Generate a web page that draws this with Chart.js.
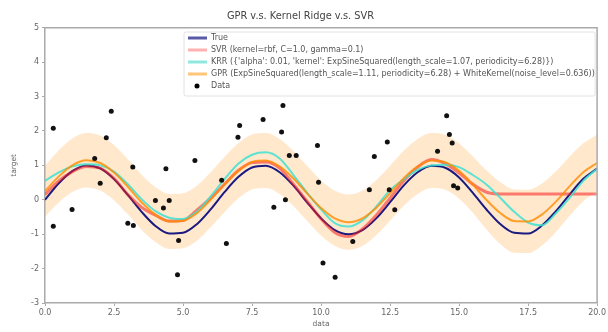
<!DOCTYPE html>
<html>
<head>
<meta charset="utf-8">
<script src="https://cdn.jsdelivr.net/npm/chart.js@4.4.1/dist/chart.umd.min.js"></script>
<style>
  html, body { margin: 0; padding: 0; background: #fff; }
  canvas { display: block; }
</style>
</head>
<body>
<canvas id="chartComparacion" width="608" height="332"></canvas>
<script>
/* Valores */
const xGrid = [0, 0.5, 1, 1.5, 2, 2.5, 3, 3.5, 4, 4.5, 5, 5.5, 6, 6.5, 7, 7.5, 8, 8.5, 9, 9.5, 10,
  10.5, 11, 11.5, 12, 12.5, 13, 13.5, 14, 14.5, 15, 15.5, 16, 16.5, 17, 17.5, 18, 18.5, 19, 19.5, 20];

const trueVals = [0, 0.48, 0.84, 1.0, 0.91, 0.6, 0.14, -0.35, -0.76, -0.98, -0.96, -0.71, -0.28, 0.22, 0.66, 0.94, 0.99, 0.8, 0.41, -0.08, -0.54,
  -0.88, -1.0, -0.88, -0.54, -0.07, 0.42, 0.8, 0.99, 0.93, 0.65, 0.2, -0.29, -0.71, -0.96, -0.98, -0.75, -0.34, 0.15, 0.61, 0.91];

const svrVals = [0.15, 0.55, 0.82, 0.97, 0.92, 0.62, 0.15, -0.22, -0.45, -0.62, -0.6, -0.3, 0.05, 0.45, 0.85, 1.08, 1.1, 0.92, 0.45, -0.05, -0.55,
  -0.95, -1.07, -0.85, -0.45, 0.05, 0.55, 0.95, 1.17, 1.05, 0.78, 0.45, 0.22, 0.17, 0.17, 0.17, 0.17, 0.17, 0.17, 0.17, 0.17];

const krrVals = [0.55, 0.8, 0.97, 1.03, 1.0, 0.82, 0.45, 0.02, -0.33, -0.52, -0.56, -0.35, 0.1, 0.6, 1.05, 1.31, 1.38, 1.2, 0.72, 0.2, -0.28,
  -0.68, -0.78, -0.6, -0.2, 0.28, 0.6, 0.87, 1.0, 1.02, 0.95, 0.72, 0.44, 0.05, -0.35, -0.66, -0.74, -0.4, 0.05, 0.55, 0.9];

const gprVals = [0.25, 0.68, 1.01, 1.15, 1.07, 0.79, 0.38, -0.07, -0.43, -0.63, -0.61, -0.39, 0.0, 0.44, 0.84, 1.1, 1.14, 0.97, 0.62, 0.18, -0.24,
  -0.54, -0.65, -0.54, -0.23, 0.19, 0.63, 0.97, 1.14, 1.09, 0.84, 0.44, -0.01, -0.39, -0.62, -0.63, -0.43, -0.06, 0.39, 0.8, 1.07];

const gprStd = [0.74, 0.76, 0.78, 0.79, 0.8, 0.8, 0.8, 0.8, 0.8, 0.8, 0.8, 0.8, 0.8, 0.8, 0.8, 0.8, 0.8, 0.8, 0.8, 0.8, 0.8,
  0.8, 0.8, 0.8, 0.8, 0.8, 0.8, 0.8, 0.8, 0.8, 0.8, 0.82, 0.86, 0.9, 0.92, 0.92, 0.9, 0.88, 0.86, 0.84, 0.83];

const dataX = [0.3, 0.3, 0.98, 1.8, 2.0, 2.22, 2.4, 3.0, 3.2, 3.18, 4.0, 4.29, 4.38, 4.5, 4.8, 4.84, 5.43, 6.4, 6.57, 6.99,
  7.05, 7.9, 8.29, 8.57, 8.62, 8.71, 8.85, 9.1, 9.87, 9.91, 10.07, 10.51, 11.15, 11.75, 11.93, 12.4, 12.47, 12.67,
  14.22, 14.55, 14.65, 14.75, 14.8, 14.95];
const dataY = [2.08, -0.77, -0.28, 1.2, 0.48, 1.8, 2.57, -0.68, -0.75, 0.95, -0.02, -0.24, 0.9, -0.02, -2.18, -1.18, 1.14, 0.57, -1.27, 1.82,
  2.16, 2.33, -0.22, 1.97, 2.74, 0.0, 1.29, 1.29, 1.58, 0.51, -1.84, -2.25, -1.21, 0.29, 1.26, 1.68, 0.29, -0.29,
  1.41, 2.44, 1.9, 1.65, 0.41, 0.34];

const xTickValues = [0, 2.5, 5, 7.5, 10, 12.5, 15, 17.5, 20];
const yTickValues = [-3, -2, -1, 0, 1, 2, 3, 4, 5];

const tituloGrafica = "GPR v.s. Kernel Ridge v.s. SVR";
const etiquetaTrue = "True";
const etiquetaSVR = "SVR (kernel=rbf, C=1.0, gamma=0.1)";
const etiquetaKRR = "KRR ({'alpha': 0.01, 'kernel': ExpSineSquared(length_scale=1.07, periodicity=6.28)})";
const etiquetaGPR = "GPR (ExpSineSquared(length_scale=1.11, periodicity=6.28) + WhiteKernel(noise_level=0.636))";
const etiquetaData = "Data";

const toPoints = (ys) => xGrid.map((x, i) => ({ x: x, y: ys[i] }));

const bandaSuperior = xGrid.map((x, i) => ({ x: x, y: gprVals[i] + gprStd[i] }));
const bandaInferior = xGrid.map((x, i) => ({ x: x, y: gprVals[i] - gprStd[i] }));
const puntosData = dataX.map((x, i) => ({ x: x, y: dataY[i] }));

const lineaBase = {
  showLine: true,
  pointRadius: 0,
  borderWidth: 2,
  cubicInterpolationMode: "monotone",
  fill: false,
};

/* Leyenda dentro del area, como en matplotlib */
const leyendaCaja = {
  id: "leyendaCaja",
  afterDatasetsDraw(chart) {
    const ctx = chart.ctx;
    const area = chart.chartArea;

    // marco superior y derecho
    ctx.save();
    ctx.strokeStyle = "#aaa";
    ctx.lineWidth = 1.5;
    ctx.beginPath();
    ctx.moveTo(area.left, area.top);
    ctx.lineTo(area.right, area.top);
    ctx.lineTo(area.right, area.bottom);
    ctx.stroke();

    const items = chart.data.datasets
      .filter((d) => d.enLeyenda)
      .sort((a, b) => a.enLeyenda - b.enLeyenda);

    const x0 = 184, y0 = 32, w = area.right - 2 - x0, rowH = 12;
    const h = items.length * rowH + 4;
    ctx.fillStyle = "rgba(255,255,255,0.85)";
    ctx.strokeStyle = "#e2e2e2";
    ctx.lineWidth = 1;
    ctx.beginPath();
    ctx.roundRect(x0, y0, w, h, 2);
    ctx.fill();
    ctx.stroke();

    ctx.font = "8px 'DejaVu Sans'";
    ctx.textBaseline = "middle";
    items.forEach((d, i) => {
      const cy = y0 + 6 + i * rowH;
      if (d.showLine) {
        ctx.strokeStyle = d.colorLeyenda;
        ctx.lineWidth = 3;
        ctx.beginPath();
        ctx.moveTo(x0 + 4, cy);
        ctx.lineTo(x0 + 23, cy);
        ctx.stroke();
      } else {
        ctx.fillStyle = "#000";
        ctx.beginPath();
        ctx.arc(x0 + 13, cy, 2.5, 0, Math.PI * 2);
        ctx.fill();
      }
      ctx.fillStyle = "#555";
      ctx.fillText(d.label, x0 + 27, cy);
    });
    ctx.restore();
  },
};

const context = document.getElementById("chartComparacion").getContext("2d");

const chartComparacion = new Chart(context, {
  type: "scatter",
  data: {
    datasets: [
      {
        label: "GPR std sup",
        data: bandaSuperior,
        showLine: true,
        pointRadius: 0,
        borderWidth: 0,
        borderColor: "rgba(0,0,0,0)",
        backgroundColor: "rgba(255,140,0,0.2)",
        cubicInterpolationMode: "monotone",
        fill: "+1",
        order: 6,
      },
      {
        label: "GPR std inf",
        data: bandaInferior,
        showLine: true,
        pointRadius: 0,
        borderWidth: 0,
        borderColor: "rgba(0,0,0,0)",
        cubicInterpolationMode: "monotone",
        fill: false,
        order: 7,
      },
      {
        ...lineaBase,
        label: etiquetaTrue,
        data: toPoints(trueVals),
        borderColor: "#1a1a80",
        colorLeyenda: "#5a5aa8",
        enLeyenda: 1,
        order: 4,
      },
      {
        ...lineaBase,
        label: etiquetaSVR,
        data: toPoints(svrVals),
        borderColor: "rgba(245,30,30,0.55)",
        borderWidth: 3,
        colorLeyenda: "#ffb0b0",
        enLeyenda: 2,
        order: 3,
      },
      {
        ...lineaBase,
        label: etiquetaKRR,
        data: toPoints(krrVals),
        borderColor: "rgba(64,224,208,0.85)",
        colorLeyenda: "#8fe8dd",
        enLeyenda: 3,
        order: 2,
      },
      {
        ...lineaBase,
        label: etiquetaGPR,
        data: toPoints(gprVals),
        borderColor: "rgba(255,140,0,0.8)",
        colorLeyenda: "#ffc578",
        enLeyenda: 4,
        order: 1,
      },
      {
        label: etiquetaData,
        data: puntosData,
        showLine: false,
        pointRadius: 2.5,
        pointBorderWidth: 0,
        backgroundColor: "#111",
        borderColor: "#111",
        enLeyenda: 5,
        order: 0,
      },
    ],
  },
  options: {
    responsive: false,
    animation: false,
    layout: { padding: { left: 0, right: 7, top: 0, bottom: 0 } },
    plugins: {
      legend: { display: false },
      tooltip: { enabled: false },
      title: {
        display: true,
        text: tituloGrafica,
        color: "#444",
        font: { family: "DejaVu Sans", size: 9.8, weight: "normal" },
        padding: { top: 11, bottom: 5 },
      },
    },
    scales: {
      x: {
        type: "linear",
        min: 0,
        max: 20,
        afterBuildTicks: (scale) => {
          scale.ticks = xTickValues.map((v) => ({ value: v }));
        },
        afterFit: (scale) => {
          scale.height = 29;
        },
        ticks: {
          color: "#666",
          font: { family: "DejaVu Sans", size: 8 },
          padding: 2,
          maxRotation: 0,
          autoSkip: false,
          callback: (v) => Number(v).toFixed(1),
        },
        grid: { drawOnChartArea: false, drawTicks: true, tickLength: 3, color: "#aaa" },
        border: { color: "#aaa", width: 1.5 },
        title: {
          display: true,
          text: "data",
          color: "#666",
          font: { family: "DejaVu Sans", size: 7.5 },
          padding: { top: 0, bottom: 3 },
        },
      },
      y: {
        type: "linear",
        min: -3,
        max: 5,
        afterBuildTicks: (scale) => {
          scale.ticks = yTickValues.map((v) => ({ value: v }));
        },
        afterFit: (scale) => {
          scale.width = 45;
        },
        ticks: {
          color: "#666",
          font: { family: "DejaVu Sans", size: 8 },
          padding: 3,
          autoSkip: false,
        },
        grid: { drawOnChartArea: false, drawTicks: true, tickLength: 3, color: "#aaa" },
        border: { color: "#aaa", width: 1.5 },
        title: {
          display: true,
          text: "target",
          color: "#666",
          font: { family: "DejaVu Sans", size: 7.5 },
          padding: { top: 10, bottom: 0 },
        },
      },
    },
  },
  plugins: [leyendaCaja],
});
</script>
</body>
</html>
